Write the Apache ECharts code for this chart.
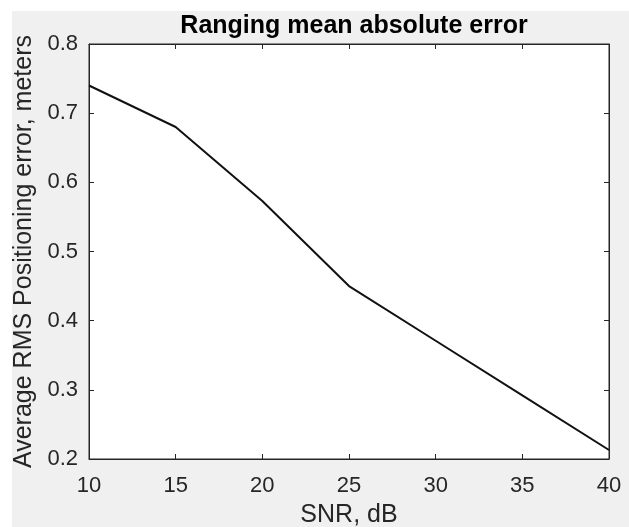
<!DOCTYPE html>
<html>
<head>
<meta charset="utf-8">
<script src="https://cdn.jsdelivr.net/npm/echarts@6/dist/echarts.min.js"></script>
<style>
html,body{margin:0;padding:0;background:#fff;}
#bg{position:absolute;left:12px;top:11px;right:0;bottom:0;background:#f0f0f0;}
#chart{position:absolute;left:0;top:0;width:629px;height:527px;}
</style>
</head>
<body>
<div id="bg"></div>
<div id="chart"></div>
<script>
const snr = [10, 15, 20, 25, 30, 35, 40];
const errorValues = [0.74, 0.68, 0.573, 0.45, 0.371, 0.292, 0.213];
const titleText = 'Ranging mean absolute error';
const xName = 'SNR, dB';
const yName = 'Average RMS Positioning error, meters';

const FONT = '"Liberation Sans", Arial, Helvetica, sans-serif';
const chart = echarts.init(document.getElementById('chart'));
const tickCol = '#262626';
const data = snr.map((x, i) => [x, errorValues[i]]);

chart.setOption({
  backgroundColor: 'transparent',
  animation: false,
  title: {
    text: titleText,
    left: 349, top: 9, textAlign: 'center',
    textStyle: { fontFamily: FONT, fontSize: 25, fontWeight: 'bold', color: '#000' }
  },
  grid: {
    left: 89, top: 44, right: 20, bottom: 68,
    outerBoundsMode: 'none', containLabel: false,
    show: true, backgroundColor: '#fff', borderColor: tickCol, borderWidth: 1
  },
  xAxis: [{
    type: 'value', min: 10, max: 40, interval: 5,
    name: xName, nameLocation: 'middle', nameGap: 44,
    nameTextStyle: { fontFamily: FONT, fontSize: 25, color: tickCol },
    axisLine: { show: true, onZero: false, lineStyle: { color: tickCol } },
    axisTick: { show: true, inside: true, length: 5, lineStyle: { color: tickCol } },
    axisLabel: { fontFamily: FONT, fontSize: 22, color: tickCol, margin: 16 },
    splitLine: { show: false }
  }, {
    type: 'value', min: 10, max: 40, interval: 5, position: 'top',
    axisLine: { show: true, onZero: false, lineStyle: { color: tickCol } },
    axisTick: { show: true, inside: true, length: 5, lineStyle: { color: tickCol } },
    axisLabel: { show: false }, splitLine: { show: false }
  }],
  yAxis: [{
    type: 'value', min: 0.2, max: 0.8, interval: 0.1,
    name: yName, nameLocation: 'middle', nameGap: 51, nameRotate: 90,
    nameTextStyle: { fontFamily: FONT, fontSize: 25, color: tickCol },
    axisLine: { show: true, onZero: false, lineStyle: { color: tickCol } },
    axisTick: { show: true, inside: true, length: 5, lineStyle: { color: tickCol } },
    axisLabel: { fontFamily: FONT, fontSize: 22, color: tickCol, margin: 11,
      formatter: v => v.toFixed(1) },
    splitLine: { show: false }
  }, {
    type: 'value', min: 0.2, max: 0.8, interval: 0.1, position: 'right',
    axisLine: { show: true, onZero: false, lineStyle: { color: tickCol } },
    axisTick: { show: true, inside: true, length: 5, lineStyle: { color: tickCol } },
    axisLabel: { show: false }, splitLine: { show: false }
  }],
  series: [{
    type: 'line', data: data, showSymbol: false,
    lineStyle: { color: '#111', width: 2 }
  }]
});
</script>
</body>
</html>
